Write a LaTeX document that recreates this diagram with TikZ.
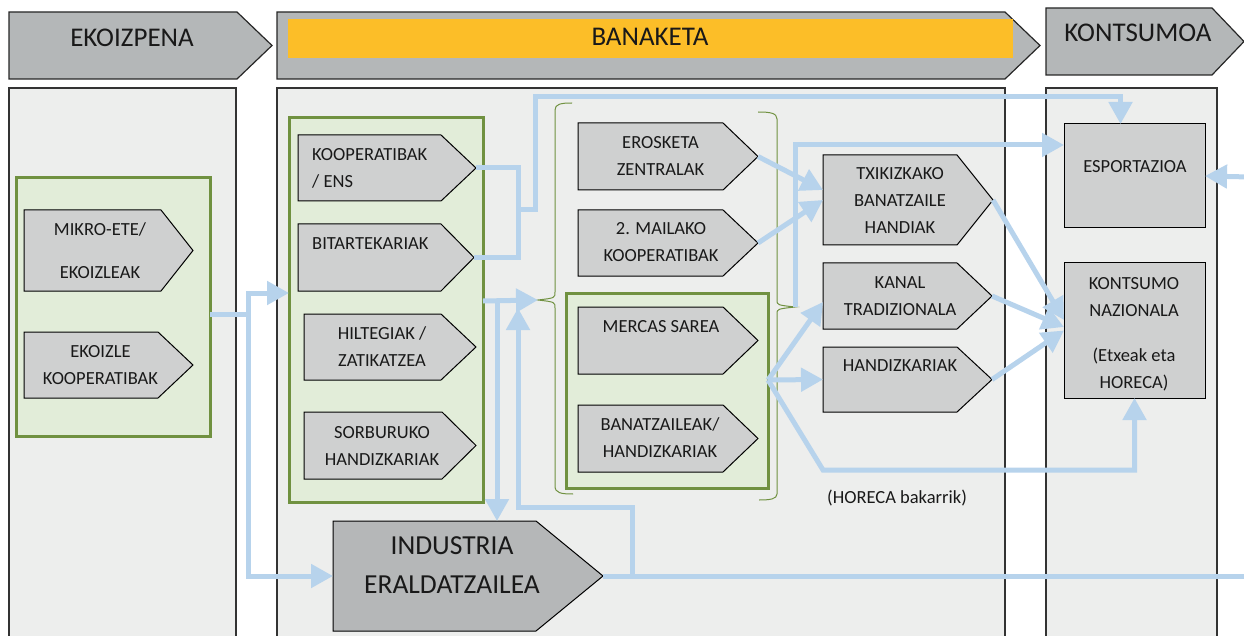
\documentclass[tikz,border=0pt]{standalone}
\usepackage{fontspec}
\setmainfont{Carlito}
\usetikzlibrary{arrows.meta}
\definecolor{hdrgray}{RGB}{180,183,184}
\definecolor{panelgray}{RGB}{237,238,237}
\definecolor{boxgray}{RGB}{207,208,208}
\definecolor{indgray}{RGB}{181,183,184}
\definecolor{grpfill}{RGB}{226,237,217}
\definecolor{grpline}{RGB}{112,145,64}
\definecolor{flow}{RGB}{183,211,236}
\definecolor{barcol}{RGB}{252,190,40}
\definecolor{txt}{RGB}{25,25,25}
\tikzset{
 panel/.style={draw=black!80, line width=1.2pt, fill=panelgray},
 hdr/.style={draw=black!85, line width=1.2pt, fill=hdrgray},
 pent/.style={draw=black, line width=1pt, fill=boxgray},
 grp/.style={draw=grpline, line width=3pt, fill=grpfill, inner sep=0pt, outer sep=0pt, anchor=north west},
 rbox/.style={draw=black, line width=1pt, fill=boxgray, inner sep=0pt, outer sep=0pt, anchor=north west},
 brace/.style={draw=grpline, line width=1pt},
 lbl/.style={font=\fontsize{18.5}{27}\selectfont, align=center, inner sep=0pt, text=txt},
 hlbl/.style={font=\fontsize{27}{32}\selectfont, inner sep=0pt, text=txt},
 ilbl/.style={font=\fontsize{27.5}{39}\selectfont, align=center, inner sep=0pt, text=txt},
 flowline/.style={draw=flow, line width=5pt},
 flowarr/.style={draw=flow, line width=5pt, -{Triangle[width=23pt,length=22pt]}},
}
\newcommand\pentbox[7]{%
  \path[pent,#7] (#2,#3) -- (#4,#3) -- (#6,{(#3+#5)/2}) -- (#4,#5) -- (#2,#5) -- cycle;
  \coordinate (#1-tip) at (#6,{(#3+#5)/2});
  \coordinate (#1-w) at (#2,{(#3+#5)/2});
  \coordinate (#1-nw) at (#2,#3);
}
\begin{document}
\begin{tikzpicture}[x=1pt,y=-1pt]
\useasboundingbox (0,0) rectangle (1244,636);
\clip (0,0) rectangle (1244,636);
% panels
\path[panel] (9,88) rectangle (236,650);
\path[panel] (277,88) rectangle (1005,650);
\path[panel] (1046,88) rectangle (1217,650);
% headers
\path[hdr] (9,12) -- (237,12) -- (272,45.5) -- (237,79) -- (9,79) -- cycle;
\path[hdr] (277,12) -- (1005,12) -- (1040,45.5) -- (1005,79) -- (277,79) -- cycle;
\fill[barcol] (288,19) rectangle (1013,58);
\path[hdr] (1046,8) -- (1212,8) -- (1244,41.5) -- (1212,75) -- (1046,75) -- cycle;
\node[hlbl] (h1) at (132,38) {EKOIZPENA};
\node[hlbl] (h2) at (650,37) {BANAKETA};
\node[hlbl] (h3) at (1138,33) {KONTSUMOA};
% groups
\node[grp, minimum width=194pt, minimum height=258pt] (lgrp) at (16,178) {};
\node[grp, minimum width=194pt, minimum height=384pt] (mgrp1) at (289,118) {};
\node[grp, minimum width=202pt, minimum height=195pt] (mgrp2) at (566,293) {};
% braces
\draw[brace] (572,103) .. controls (561,103) and (555,104) .. (555,110) -- (555,292) .. controls (555,298) .. (538,300) .. controls (555,302) .. (555,308) -- (555,486) .. controls (555,493) and (561,494) .. (573,494);
\coordinate (lcusp) at (538,300);
\draw[brace] (758,112) .. controls (770,112) and (777,113) .. (777,119) -- (777,300) .. controls (777,305) .. (795,307) .. controls (777,309) .. (777,314) -- (777,494) .. controls (777,499) and (770,500) .. (759,500);
\coordinate (rcusp) at (795,307);
% boxes
\pentbox{mikro}{24}{210}{161}{291}{193}{}
\pentbox{ekoz}{24}{332}{158}{398}{193}{}
\pentbox{koopb}{298}{135}{441}{201}{476}{}
\pentbox{bitb}{298}{224}{441}{291}{474}{}
\pentbox{hiltb}{304}{314}{441}{380}{476}{}
\pentbox{sorbb}{304}{412}{442}{479}{476}{}
\pentbox{ind}{333}{521}{536}{631}{603}{fill=indgray}
\pentbox{eros}{578}{123}{723}{190}{758}{}
\pentbox{mail}{578}{210}{723}{276}{758}{}
\pentbox{merc}{578}{307}{723}{374}{758}{}
\pentbox{bana}{578}{405}{723}{472}{758}{}
\pentbox{txik}{823}{155}{957}{245}{993}{}
\pentbox{kanal}{823}{263}{957}{329}{992}{}
\pentbox{handiz}{823}{347}{957}{412}{992}{}
\node[rbox, minimum width=141pt, minimum height=104pt] (esp) at (1064,124) {};
\node[rbox, minimum width=141pt, minimum height=135pt] (kon) at (1064,263) {};
% labels
\node[lbl] (mikrot) at (100,250.5) {MIKRO-ETE/\\[16pt]EKOIZLEAK};
\node[lbl] (ekozt) at (100.5,365) {EKOIZLE\\KOOPERATIBAK};
\node[lbl, align=left, anchor=west] (koopt) at (312,168) {KOOPERATIBAK\\/ ENS};
\node[lbl, align=left, anchor=west] (bitt) at (312,244) {BITARTEKARIAK};
\node[lbl] (hiltt) at (382,347) {HILTEGIAK /\\ZATIKATZEA};
\node[lbl] (sorbt) at (382,445.5) {SORBURUKO\\HANDIZKARIAK};
\node[ilbl] (indt) at (452,565.5) {INDUSTRIA\\ERALDATZAILEA};
\node[lbl] (erost) at (660.5,155.5) {EROSKETA\\ZENTRALAK};
\node[lbl] (mailt) at (661,242.5) {2. MAILAKO\\KOOPERATIBAK};
\node[lbl] (merct) at (661,327) {MERCAS SAREA};
\node[lbl] (banat) at (660,437.5) {BANATZAILEAK/\\HANDIZKARIAK};
\node[lbl] (txikt) at (900,200) {TXIKIZKAKO\\BANATZAILE\\HANDIAK};
\node[lbl] (kanalt) at (900,296) {KANAL\\TRADIZIONALA};
\node[lbl] (handizt) at (900,366) {HANDIZKARIAK};
\node[lbl] (espt) at (1135,167) {ESPORTAZIOA};
\node[lbl] (kont) at (1134,334) {KONTSUMO\\NAZIONALA\\[18pt](Etxeak eta\\HORECA)};
\node[lbl] (horeca) at (897,498) {(HORECA bakarrik)};
% connectors
\coordinate (eastout) at (1250,576);
\coordinate (eastin) at (1250,177);
\coordinate (j5) at (497,301);
\coordinate (j7) at (632,576);
\coordinate (up7) at (518,308);
\draw[flowarr] ([yshift=-7pt]lgrp.east) -| (248,293) -- ([yshift=17pt]mgrp1.west);
\draw[flowarr] ([yshift=-7pt]lgrp.east) -| (248,576) -- (ind-w);
\draw[flowline] (koopb-tip) -| (518,210) |- (bitb-tip);
\draw[flowarr] (518,210) -- (535,210) -- (535,97) -| ([xshift=-14pt]esp.north);
\draw[flowarr] ([yshift=9pt]mgrp1.east) -- (lcusp);
\draw[flowarr] (j5) -- (j5 |- ind-nw);
\draw[flowline] (ind-tip) -- (eastout);
\draw[flowarr] (j7) |- (518,507) -- (up7);
\draw[flowarr] (eros-tip) -- ([yshift=10pt]txik-w);
\draw[flowarr] (mail-tip) -- (txik-w);
\draw[flowarr] (rcusp) |- ([yshift=31pt]esp.west);
\draw[flowarr] ([yshift=10.5pt]mgrp2.east) -- ([yshift=-6pt]kanal-w);
\draw[flowarr] ([yshift=10.5pt]mgrp2.east) -- (handiz-w);
\draw[flowarr] ([yshift=10.5pt]mgrp2.east) -- (823,470) -| (kon.south);
\draw[flowarr] (txik-tip) -- ([yshift=10.5pt]kon.west);
\draw[flowarr] (kanal-tip) -- ([yshift=3.5pt]kon.west);
\draw[flowarr] (handiz-tip) -- (kon.west);
\draw[flowarr] (eastin) -- (esp.east);
\end{tikzpicture}
\end{document}
